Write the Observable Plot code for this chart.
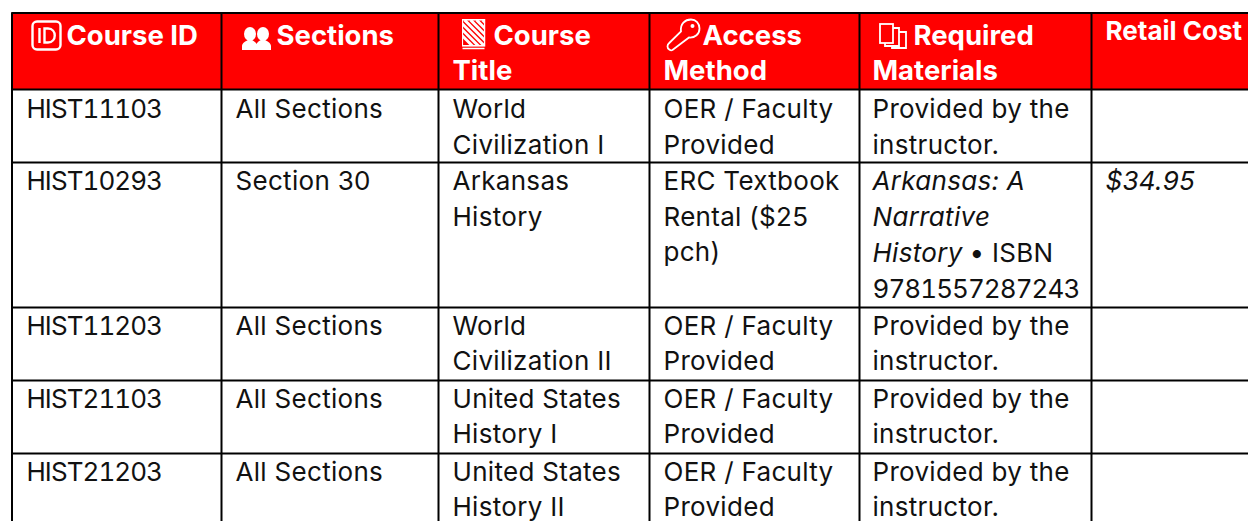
<!DOCTYPE html>
<html><head><meta charset="utf-8">
<style>html,body{margin:0;padding:0;background:#fff;overflow:hidden}svg{display:block}
.body-text text{letter-spacing:.3px}
.code-text text{font-feature-settings:"tnum" 1;letter-spacing:-.95px}</style>
<script src="https://cdn.jsdelivr.net/npm/d3@7"></script>
<script src="https://cdn.jsdelivr.net/npm/@observablehq/plot@0.6"></script>
</head><body><div id="chart"></div>
<script>
const columnEdges = [11.5, 221, 438, 649, 859, 1091, 1248];
const rowEdges = [12.5, 89, 162, 307, 380, 453, 521];
const cellX = [26, 235, 452, 663, 872, 1105];
const rowBaselines = [117.5, 189.5, 334, 407, 480];
const lineStep = 35.6;

const courseIds = ["HIST11103","HIST10293","HIST11203","HIST21103","HIST21203"];
const sections = ["All Sections","Section 30","All Sections","All Sections","All Sections"];
const titles = ["World\nCivilization I","Arkansas\nHistory","World\nCivilization II","United States\nHistory I","United States\nHistory II"];
const methods = ["OER / Faculty\nProvided","ERC Textbook\nRental ($25\npch)","OER / Faculty\nProvided","OER / Faculty\nProvided","OER / Faculty\nProvided"];
const materials = ["Provided by the\ninstructor.","","Provided by the\ninstructor.","Provided by the\ninstructor.","Provided by the\ninstructor."];
const headers = [
  {t:"Course ID",x:66,y:44},{t:"Sections",x:276,y:44},{t:"Course",x:493,y:44},{t:"Title",x:452,y:79},
  {t:"Access",x:702,y:44},{t:"Method",x:663,y:79},{t:"Required",x:913,y:44},{t:"Materials",x:872,y:79}
];
const retailHeader = [{t:"Retail Cost",x:1105,y:39}];
const italics = [
  {t:"Arkansas: A",x:872,y:189.5},{t:"Narrative",x:872,y:225},{t:"History",x:872,y:261},{t:"$34.95",x:1105,y:189.5}
];
const uprights = [{t:"• ISBN",x:969,y:261}];
const isbn = [{t:"9781557287243",x:872,y:297}];

const bodyCols = [null, sections, titles, methods, materials];
const cells = bodyCols.flatMap((col,c)=>col ? col.flatMap((txt,r)=>txt.split("\n").map((t,i)=>({t, x:cellX[c], y:rowBaselines[r]+i*lineStep}))) : []);
const idCells = courseIds.map((t,r)=>({t, x:cellX[0], y:rowBaselines[r]}));
const font = {fontFamily:"Inter", textAnchor:"start", lineAnchor:"bottom"};

function svgUri(w,h,body){
  return "data:image/svg+xml;utf8,"+encodeURIComponent(`<svg xmlns="http://www.w3.org/2000/svg" width="${w}" height="${h}" viewBox="0 0 ${w} ${h}">${body}</svg>`);
}
const W = 'stroke="#fff" fill="none"';
const stripes = [-16,-10,-4,2,8,14,20].map(o=>`<line x1="${o}" y1="0" x2="${o+26}" y2="26" stroke="#fff" stroke-width="3"/>`).join("");
const icons = [
  {x:46,y:35,w:31,h:31,src:svgUri(31,31,`<rect x="1.5" y="1.5" width="28" height="28" rx="4.5" ${W} stroke-width="2.4"/><path d="M8.500 8v15M13.500 8.500h3.500c9 0 9 14 0 14h-3.500z" ${W} stroke-width="2.400"/>`)},
  {x:256,y:38,w:29,h:23,src:svgUri(29,23,`<g fill="#fff"><ellipse cx="8" cy="7" rx="6" ry="7"/><ellipse cx="21" cy="7" rx="6" ry="7"/><path d="M0 23v-4c0-3 4-5 6-6h4c2 1 4 2.500 4.500 4c.5-1.500 2.500-3 4.500-4h4c2 1 6 3 6 6v4z"/></g>`)},
  {x:473,y:34,w:24,h:31,src:svgUri(24,31,`<svg x="1" y="1" width="22" height="26" viewBox="0 0 22 26">${stripes}</svg><rect x="0.8" y="0.8" width="22.400" height="26" ${W} stroke-width="1.600"/><line x1="1" y1="29.500" x2="23" y2="29.500" stroke="#fff" stroke-width="1.600"/>`)},
  {x:683,y:34.5,w:35,h:34,src:svgUri(35,34,`<path d="M15 13.500C14 6 19 1.500 25 1.500C30 1.500 33.500 5.500 33.500 10.500C33.500 16 29 20 23 19.500L6.500 32C4.500 33 1.500 31 1.500 28.500C1.500 27 2 26 3 25.200z" ${W} stroke-width="1.800"/><circle cx="26.500" cy="8" r="2" fill="#fff"/>`)},
  {x:893,y:36,w:29,h:27,src:svgUri(29,27,`<rect x="1" y="1" width="13" height="19" ${W} stroke-width="1.800"/><path d="M14 5h6v18H6v-3" ${W} stroke-width="1.800"/><path d="M20 9h7v16H13v-2" ${W} stroke-width="1.800"/>`)}
];

const chart = Plot.plot({
  width:1248, height:521, margin:0,
  x:{type:"linear", domain:[0,1248], range:[0,1248], axis:null},
  y:{type:"linear", domain:[0,521], range:[0,521], axis:null},
  marks:[
    Plot.rect([0],{x1:columnEdges[0],x2:1248,y1:rowEdges[0],y2:rowEdges[1],fill:"#ff0000"}),
    Plot.ruleX(columnEdges.slice(0,6),{y1:rowEdges[0],y2:521,stroke:"#000",strokeWidth:2}),
    Plot.ruleY(rowEdges.slice(0,6),{x1:columnEdges[0],x2:1248,stroke:"#000",strokeWidth:2}),
    Plot.text(cells,{x:"x",y:"y",text:"t",...font,fontSize:26,fill:"#111",className:"body-text"}),
    Plot.text(idCells,{x:"x",y:"y",text:"t",...font,fontSize:26,fill:"#111",className:"code-text"}),
    Plot.text(isbn,{x:"x",y:"y",text:"t",...font,fontSize:26,fill:"#111",className:"code-text"}),
    Plot.text(uprights,{x:"x",y:"y",text:"t",...font,fontSize:26,fill:"#111",className:"body-text"}),
    Plot.text(italics,{x:"x",y:"y",text:"t",...font,fontSize:26,fill:"#111",fontStyle:"italic",className:"body-text"}),
    Plot.text(headers,{x:"x",y:"y",text:"t",...font,fontSize:27.5,fill:"#fff",fontWeight:700}),
    Plot.text(retailHeader,{x:"x",y:"y",text:"t",...font,fontSize:26,fill:"#fff",fontWeight:700}),
    Plot.image(icons,{x:"x",y:"y",src:"src",width:"w",height:"h"})
  ]
});
document.getElementById("chart").append(chart);
</script></body></html>
